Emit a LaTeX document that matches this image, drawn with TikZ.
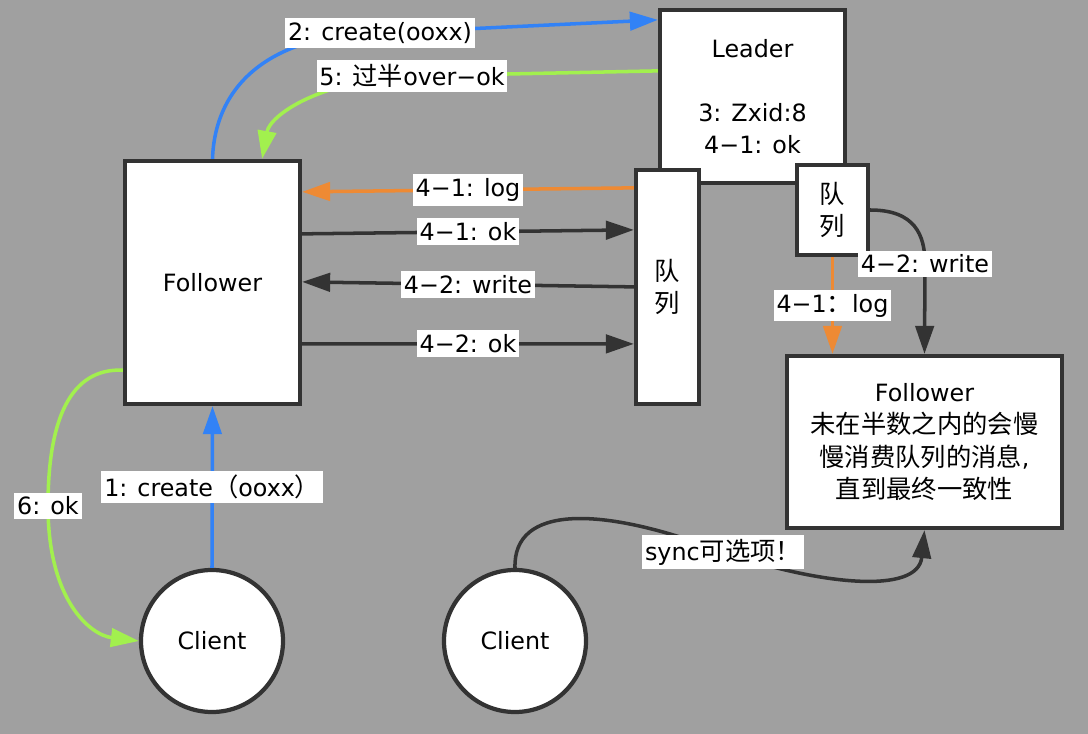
\documentclass[tikz,border=0pt]{standalone}
\usepackage{fontspec}
\setmainfont{DejaVu Sans}[Scale=0.94]
\newfontfamily\cjk{Noto Sans CJK SC}
\usetikzlibrary{arrows.meta}
\definecolor{bggray}{HTML}{A0A0A0}
\definecolor{linedark}{HTML}{333333}
\definecolor{msgblue}{HTML}{3282F6}
\definecolor{msggreen}{HTML}{A2F04E}
\definecolor{msgorange}{HTML}{EE8A34}

\begin{document}
\begin{tikzpicture}[x=0.025cm, y=-0.025cm,
    font=\fontsize{18pt}{22.8pt}\selectfont,
    box/.style={fill=white, draw=linedark, line width=3pt, align=center, inner sep=0pt},
    lbl/.style={fill=white, text=black, inner xsep=2pt, inner ysep=3pt},
    msg/.style={line width=2.5pt, -{Triangle[length=0.7cm, width=0.46cm]}}]
      \fill[bggray] (0, 0) rectangle (1088, 734);
      \draw
        (212.5, 282.5) node[box, minimum width=4.375cm, minimum height=6.075cm] (fl){Follower}
        (752.5, 96.5) node[box, minimum width=4.625cm, minimum height=4.325cm] (ld){Leader\\[0.8cm]3: Zxid:8\\4−1: ok}
        (667.5, 287) node[box, minimum width=1.575cm, minimum height=5.85cm] (q1){{\cjk 队}\\{\cjk 列}}
        (832.5, 210) node[box, minimum width=1.775cm, minimum height=2.25cm] (q2){{\cjk 队}\\{\cjk 列}}
        (924.5, 442) node[box, minimum width=6.875cm, minimum height=4.3cm] (fr){Follower\\{\cjk 未在半数之内的会慢}\\{\cjk 慢消费队列的消息},\\{\cjk 直到最终一致性}}
        (212, 641) node[box, circle, minimum size=3.55cm] (c1){Client}
        (515, 641) node[box, circle, minimum size=3.55cm] (c2){Client};
      \begin{scope}[msg]
        \draw[msgblue] (c1.north) -- node[lbl] {1: create{\cjk （}ooxx{\cjk ）}} (fl.south);
        \draw[msgblue] (fl.north) .. controls (215, 85) and (270, 34) .. (380, 33)
          node[lbl] {2: create(ooxx)} -- ([yshift=-0.3cm]ld.north west);
        \draw[msggreen] ([yshift=-1.575cm]ld.north west) -- (412, 76)
          node[lbl] {5: {\cjk 过半}over−ok} .. controls (320, 80) and (270, 115) .. ([xshift=1.24cm]fl.north);
        \draw[msgorange] ([yshift=-0.5cm]q1.north west) -- node[lbl] {4−1: log} ([yshift=-0.825cm]fl.north east);
        \draw[linedark] ([yshift=-1.875cm]fl.north east) -- node[lbl] {4−1: ok} ([yshift=-1.55cm]q1.north west);
        \draw[linedark] ([yshift=-2.975cm]q1.north west) -- node[lbl] {4−2: write} ([yshift=-3.075cm]fl.north east);
        \draw[linedark] ([yshift=-4.625cm]fl.north east) -- node[lbl] {4−2: ok} ([yshift=-4.4cm]q1.north west);
        \draw[msgorange] (q2.south) -- node[lbl] {4−1{\cjk ：}log} (q2.south |- fr.north);
        \draw[linedark] (q2.east) .. controls (915, 210) and (925, 235) .. (925, 264)
          node[lbl] {4−2: write} -- (fr.north);
        \draw[msggreen] ([yshift=0.9cm]fl.south west) .. controls (70, 368) and (48, 420) .. (48, 506)
          node[lbl] {6: ok} .. controls (48, 600) and (90, 635) .. (c1.west);
        \draw[linedark] (c2.north) .. controls (513, 505) and (600, 505) .. (723, 552)
          node[lbl] {sync{\cjk 可选项！}} .. controls (820, 585) and (918, 595) .. (fr.south);
      \end{scope}
    \end{tikzpicture}
\end{document}
